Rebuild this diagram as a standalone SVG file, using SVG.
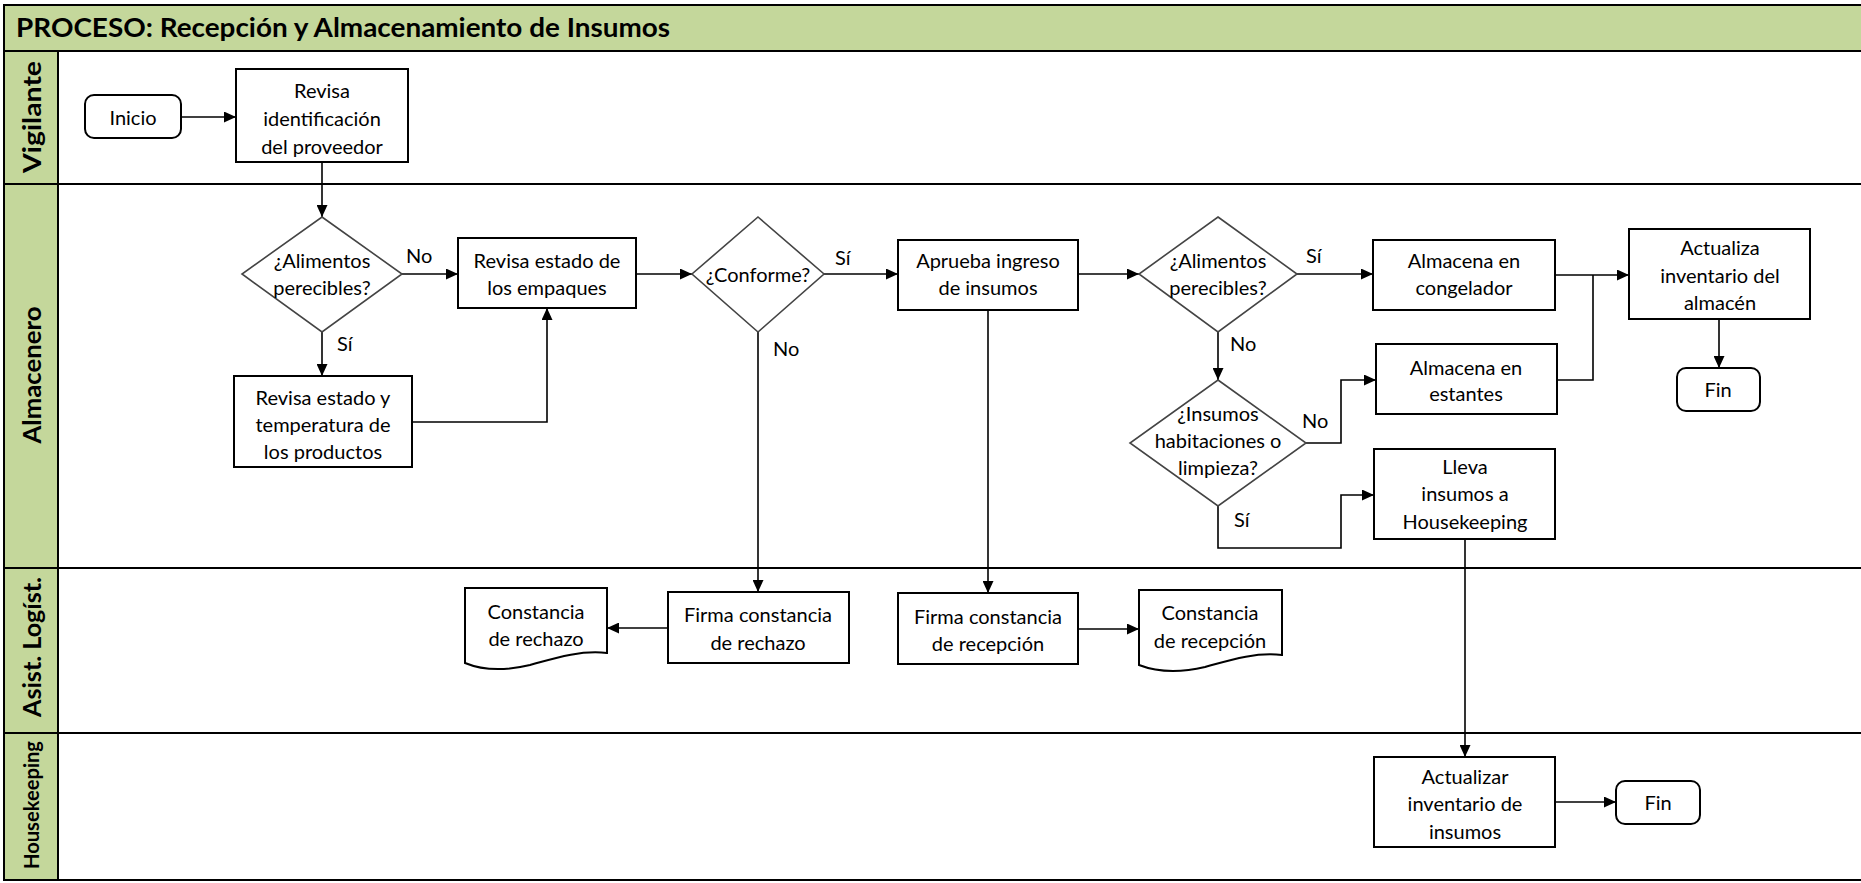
<svg xmlns="http://www.w3.org/2000/svg" width="1861" height="883" viewBox="0 0 1861 883">
<style>
.lane{fill:#fff;stroke:#000;stroke-width:2}
.hdr{fill:#C4D79B;stroke:#000;stroke-width:2}
.lbl{font-family:Lato,"Liberation Sans",sans-serif;font-weight:bold;fill:#000;text-anchor:middle;dominant-baseline:central}
.box{fill:#fff;stroke:#000;stroke-width:2}
.dia{fill:#fff;stroke:#444;stroke-width:1.6}
.t{font-family:Lato,"Liberation Sans",sans-serif;font-size:20px;fill:#000;text-anchor:middle;dominant-baseline:central}
.c{fill:none;stroke:#000;stroke-width:1.6}
.ca{fill:none;stroke:#000;stroke-width:1.6;marker-end:url(#ah)}
.yl{font-family:Lato,"Liberation Sans",sans-serif;font-size:20px;fill:#000;dominant-baseline:central}
</style>
<defs>
<marker id="ah" viewBox="0 0 10 10" refX="10" refY="5" markerWidth="12" markerHeight="11" orient="auto" markerUnits="userSpaceOnUse" preserveAspectRatio="none">
<path d="M0,0 L10,5 L0,10 Z" fill="#000"/>
</marker>
</defs>
<rect width="1861" height="883" fill="#fff"/>
<g id="pool">
<rect class="hdr" x="4" y="5" width="1870" height="46"/>
<text x="16" y="37" font-family="Lato,'Liberation Sans',sans-serif" font-weight="bold" font-size="27" fill="#000" textLength="654" lengthAdjust="spacingAndGlyphs">PROCESO: Recepción y Almacenamiento de Insumos</text>
<rect class="lane" x="4" y="51" width="1870" height="133"/>
<rect class="lane" x="4" y="184" width="1870" height="384"/>
<rect class="lane" x="4" y="568" width="1870" height="165"/>
<rect class="lane" x="4" y="733" width="1870" height="147"/>
<rect class="hdr" x="4" y="51" width="54" height="133"/>
<rect class="hdr" x="4" y="184" width="54" height="384"/>
<rect class="hdr" x="4" y="568" width="54" height="165"/>
<rect class="hdr" x="4" y="733" width="54" height="147"/>
<text class="lbl" font-size="25" textLength="112" lengthAdjust="spacingAndGlyphs" transform="translate(31 117) rotate(-90)">Vigilante</text>
<text class="lbl" font-size="25" textLength="137" lengthAdjust="spacingAndGlyphs" transform="translate(31 375) rotate(-90)">Almacenero</text>
<text class="lbl" font-size="25" textLength="140" lengthAdjust="spacingAndGlyphs" transform="translate(31 647) rotate(-90)">Asist. Logíst.</text>
<text class="lbl" font-size="20" textLength="128" lengthAdjust="spacingAndGlyphs" transform="translate(31 805) rotate(-90)">Housekeeping</text>
</g>
<g id="connectors">
<path class="ca" d="M181,117 H236"/>
<path class="ca" d="M322,162 V217"/>
<path class="ca" d="M402,274 H458"/>
<path class="ca" d="M322,332 V376"/>
<path class="ca" d="M412,422 H547 V308"/>
<path class="ca" d="M636,274 H692"/>
<path class="ca" d="M824,274 H898"/>
<path class="ca" d="M758,332 V592"/>
<path class="ca" d="M668,628 H607"/>
<path class="ca" d="M1078,274 H1139"/>
<path class="ca" d="M988,310 V593"/>
<path class="ca" d="M1078,629 H1139"/>
<path class="ca" d="M1297,274 H1373"/>
<path class="ca" d="M1218,332 V380"/>
<path class="ca" d="M1306,443 H1341 V380 H1376"/>
<path class="ca" d="M1218,506 V548 H1341 V495 H1374"/>
<path class="ca" d="M1555,275 H1629"/>
<path class="c" d="M1557,380 H1593 V275"/>
<path class="ca" d="M1719,319 V368"/>
<path class="ca" d="M1465,539 V757"/>
<path class="ca" d="M1555,802 H1616"/>
<text class="yl" x="406" y="255">No</text>
<text class="yl" x="337" y="343">Sí</text>
<text class="yl" x="835" y="257">Sí</text>
<text class="yl" x="773" y="348">No</text>
<text class="yl" x="1306" y="255">Sí</text>
<text class="yl" x="1230" y="343">No</text>
<text class="yl" x="1302" y="420">No</text>
<text class="yl" x="1234" y="519">Sí</text>
</g>
<g id="inicio">
<rect class="box" x="85" y="95" width="96" height="43" rx="9"/>
<text class="t" x="133" y="117">Inicio</text>
</g>
<g id="revisa-id">
<rect class="box" x="236" y="69" width="172" height="93"/>
<text class="t" x="322" y="90">Revisa</text>
<text class="t" x="322" y="118">identificación</text>
<text class="t" x="322" y="146">del proveedor</text>
</g>
<g id="d-alimentos1">
<polygon class="dia" points="322,217 402,274 322,332 242,274"/>
<text class="t" x="322" y="260">¿Alimentos</text>
<text class="t" x="322" y="287">perecibles?</text>
</g>
<g id="revisa-empaques">
<rect class="box" x="458" y="238" width="178" height="70"/>
<text class="t" x="547" y="260">Revisa estado de</text>
<text class="t" x="547" y="287">los empaques</text>
</g>
<g id="revisa-temperatura">
<rect class="box" x="234" y="376" width="178" height="91"/>
<text class="t" x="323" y="397">Revisa estado y</text>
<text class="t" x="323" y="424">temperatura de</text>
<text class="t" x="323" y="451">los productos</text>
</g>
<g id="d-conforme">
<polygon class="dia" points="758,217 824,274 758,332 692,274"/>
<text class="t" x="758" y="274">¿Conforme?</text>
</g>
<g id="aprueba">
<rect class="box" x="898" y="240" width="180" height="70"/>
<text class="t" x="988" y="260">Aprueba ingreso</text>
<text class="t" x="988" y="287">de insumos</text>
</g>
<g id="d-alimentos2">
<polygon class="dia" points="1218,217 1297,274 1218,332 1139,274"/>
<text class="t" x="1218" y="260">¿Alimentos</text>
<text class="t" x="1218" y="287">perecibles?</text>
</g>
<g id="d-insumos">
<polygon class="dia" points="1218,380 1306,443 1218,506 1130,443"/>
<text class="t" x="1218" y="413">¿Insumos</text>
<text class="t" x="1218" y="440">habitaciones o</text>
<text class="t" x="1218" y="467">limpieza?</text>
</g>
<g id="congelador">
<rect class="box" x="1373" y="240" width="182" height="70"/>
<text class="t" x="1464" y="260">Almacena en</text>
<text class="t" x="1464" y="287">congelador</text>
</g>
<g id="estantes">
<rect class="box" x="1376" y="344" width="181" height="70"/>
<text class="t" x="1466" y="367">Almacena en</text>
<text class="t" x="1466" y="393">estantes</text>
</g>
<g id="lleva">
<rect class="box" x="1374" y="449" width="181" height="90"/>
<text class="t" x="1465" y="466">Lleva</text>
<text class="t" x="1465" y="493">insumos a</text>
<text class="t" x="1465" y="521">Housekeeping</text>
</g>
<g id="actualiza-almacen">
<rect class="box" x="1629" y="229" width="181" height="90"/>
<text class="t" x="1720" y="247">Actualiza</text>
<text class="t" x="1720" y="275">inventario del</text>
<text class="t" x="1720" y="302">almacén</text>
</g>
<g id="fin1">
<rect class="box" x="1677" y="368" width="83" height="43" rx="9"/>
<text class="t" x="1718" y="389">Fin</text>
</g>
<g id="firma-rechazo">
<rect class="box" x="668" y="592" width="181" height="71"/>
<text class="t" x="758" y="614">Firma constancia</text>
<text class="t" x="758" y="642">de rechazo</text>
</g>
<g id="constancia-rechazo">
<path class="box" d="M465,588 H607 V653 C580,650 555,658 530,665 C505,671 482,670 465,663 Z"/>
<text class="t" x="536" y="611">Constancia</text>
<text class="t" x="536" y="638">de rechazo</text>
</g>
<g id="firma-recepcion">
<rect class="box" x="898" y="593" width="180" height="71"/>
<text class="t" x="988" y="616">Firma constancia</text>
<text class="t" x="988" y="643">de recepción</text>
</g>
<g id="constancia-recepcion">
<path class="box" d="M1139,590 H1282 V655 C1255,652 1230,660 1205,667 C1180,673 1157,672 1139,665 Z"/>
<text class="t" x="1210" y="612">Constancia</text>
<text class="t" x="1210" y="640">de recepción</text>
</g>
<g id="actualizar-insumos">
<rect class="box" x="1374" y="757" width="181" height="90"/>
<text class="t" x="1465" y="776">Actualizar</text>
<text class="t" x="1465" y="803">inventario de</text>
<text class="t" x="1465" y="831">insumos</text>
</g>
<g id="fin2">
<rect class="box" x="1616" y="781" width="84" height="43" rx="9"/>
<text class="t" x="1658" y="802">Fin</text>
</g>
</svg>
